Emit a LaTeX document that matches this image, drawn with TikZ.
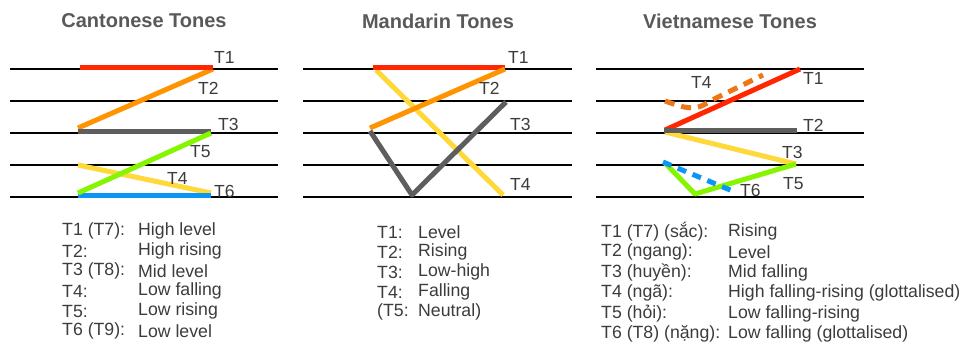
\documentclass[tikz,border=0pt]{standalone}
\usepackage{fontspec}
\setmainfont{Liberation Sans}
\begin{document}
\begin{tikzpicture}[x=1pt,y=-1pt,
  staff/.style={line width=2pt,black},
  tone/.style={line width=5pt,line cap=butt,line join=round},
  lbl/.style={anchor=west,inner sep=0pt,text=txtgray,font=\fontsize{17.5}{17.5}\selectfont},
  leg/.style={anchor=west,inner sep=0pt,text=txtgray,font=\fontsize{17.7}{17.7}\selectfont},
  ttl/.style={inner sep=0pt,text=ttlgray,font=\fontsize{20}{20}\selectfont\bfseries}]
\definecolor{tred}{HTML}{FF2600}
\definecolor{torange}{HTML}{FF9300}
\definecolor{tdkorange}{HTML}{EF7614}
\definecolor{tgray}{HTML}{5E5E5E}
\definecolor{tgreen}{HTML}{86F500}
\definecolor{tyellow}{HTML}{FFD83A}
\definecolor{tblue}{HTML}{0A96F5}
\definecolor{txtgray}{HTML}{3C3C3C}
\definecolor{ttlgray}{HTML}{595959}
\useasboundingbox (0,0) rectangle (968,341);
\fill[white] (0,0) rectangle (968,341);

% titles
\node[ttl] (tc) at (144,21) {Cantonese Tones};
\node[ttl] (tm) at (438,21) {Mandarin Tones};
\node[ttl] (tv) at (730,21) {Vietnamese Tones};

% staff lines
\foreach \y in {69,101,133,165,197}{
  \draw[staff] (10,\y) -- (278,\y);
  \draw[staff] (303,\y) -- (572,\y);
  \draw[staff] (596,\y) -- (864,\y);
}

% ---------- Cantonese ----------
\coordinate (c1a) at (80,67);  \coordinate (c1b) at (213,67);
\coordinate (c2a) at (213,69); \coordinate (c2b) at (78,128);
\coordinate (c3a) at (78,131); \coordinate (c3b) at (211,131);
\coordinate (c4a) at (78,165); \coordinate (c4b) at (211,193);
\coordinate (c6a) at (78,195); \coordinate (c6b) at (211,195);
\coordinate (c5a) at (78,193); \coordinate (c5b) at (211,133);
\draw[tone,torange] (c2a) -- (c2b);
\draw[tone,tred] (c1a) -- (c1b);
\draw[tone,tgray] (c3a) -- (c3b);
\draw[tone,tyellow] (c4a) -- (c4b);
\draw[tone,tblue] (c6a) -- (c6b);
\draw[tone,tgreen] (c5a) -- (c5b);
\node[lbl] (cl1) at (214,57) {T1};
\node[lbl] (cl2) at (198,88) {T2};
\node[lbl] (cl3) at (218,124) {T3};
\node[lbl] (cl5) at (190,152) {T5};
\node[lbl] (cl4) at (167,178) {T4};
\node[lbl] (cl6) at (214,191) {T6};

% ---------- Mandarin ----------
\coordinate (m1a) at (373,67); \coordinate (m1b) at (505,67);
\coordinate (m2a) at (505,69); \coordinate (m2b) at (370,128);
\coordinate (m4a) at (376,70); \coordinate (m4b) at (503,195);
\coordinate (m3a) at (370,131); \coordinate (m3m) at (412,195); \coordinate (m3b) at (506,102);
\draw[tone,tyellow] (m4a) -- (m4b);
\draw[tone,tgray] (m3a) -- (m3m) -- (m3b);
\draw[tone,tred] (m1a) -- (m1b);
\draw[tone,torange] (m2a) -- (m2b);
\node[lbl] (ml1) at (508,57) {T1};
\node[lbl] (ml2) at (479,88) {T2};
\node[lbl] (ml3) at (510,124) {T3};
\node[lbl] (ml4) at (510,184) {T4};

% ---------- Vietnamese ----------
\coordinate (v1a) at (665,130); \coordinate (v1b) at (800,69);
\coordinate (v2a) at (664,130); \coordinate (v2b) at (797,130);
\coordinate (v3a) at (665,132); \coordinate (v3b) at (796,164);
\coordinate (v5a) at (665,163); \coordinate (v5m) at (695,194); \coordinate (v5b) at (796,164);
\coordinate (v4a) at (665,101); \coordinate (v4m) at (693,109); \coordinate (v4b) at (763,75);
\coordinate (v6a) at (663,162); \coordinate (v6b) at (735,192);
\draw[tone,tyellow] (v3a) -- (v3b);
\draw[tone,tgreen] (v5a) -- (v5m) -- (v5b);
\draw[tone,tblue,dash pattern=on 9pt off 7pt] (v6a) -- (v6b);
\draw[tone,tdkorange,dash pattern=on 10pt off 7pt] (v4a) .. controls (685,108) and (695,112) .. (710,101) -- (v4b);
\draw[tone,tred] (v1a) -- (v1b);
\draw[tone,tgray] (v2a) -- (v2b);
\node[lbl] (vl4) at (691,82) {T4};
\node[lbl] (vl1) at (803,78) {T1};
\node[lbl] (vl2) at (803,125) {T2};
\node[lbl] (vl3) at (782,152) {T3};
\node[lbl] (vl5) at (783,184) {T5};
\node[lbl] (vl6) at (740,190) {T6};

% ---------- Legends ----------
\foreach \a/\b [count=\i from 0] in {T1 (T7):/High level,T2:/High rising,T3 (T8):/Mid level,T4:/Low falling,T5:/Low rising,T6 (T9):/Low level}{
  \node[leg] (cka\i) at (62,231+20*\i) {\a};
  \node[leg] (ckb\i) at (138,231+20*\i) {\b};
}
\foreach \a/\b [count=\i from 0] in {T1:/Level,T2:/Rising,T3:/Low-high,T4:/Falling,(T5:/Neutral)}{
  \node[leg] (mka\i) at (377,232+20*\i) {\a};
  \node[leg] (mkb\i) at (418,232+20*\i) {\b};
}
\foreach \a/\b [count=\i from 0] in {T1 (T7) (sắc):/Rising,T2 (ngang):/Level,T3 (huyền):/Mid falling,T4 (ngã):/High falling-rising (glottalised),T5 (hỏi):/Low falling-rising,T6 (T8) (nặng):/Low falling (glottalised)}{
  \node[leg] (vka\i) at (601,232+20.4*\i) {\a};
  \node[leg] (vkb\i) at (728,232+20.4*\i) {\b};
}
\end{tikzpicture}
\end{document}
